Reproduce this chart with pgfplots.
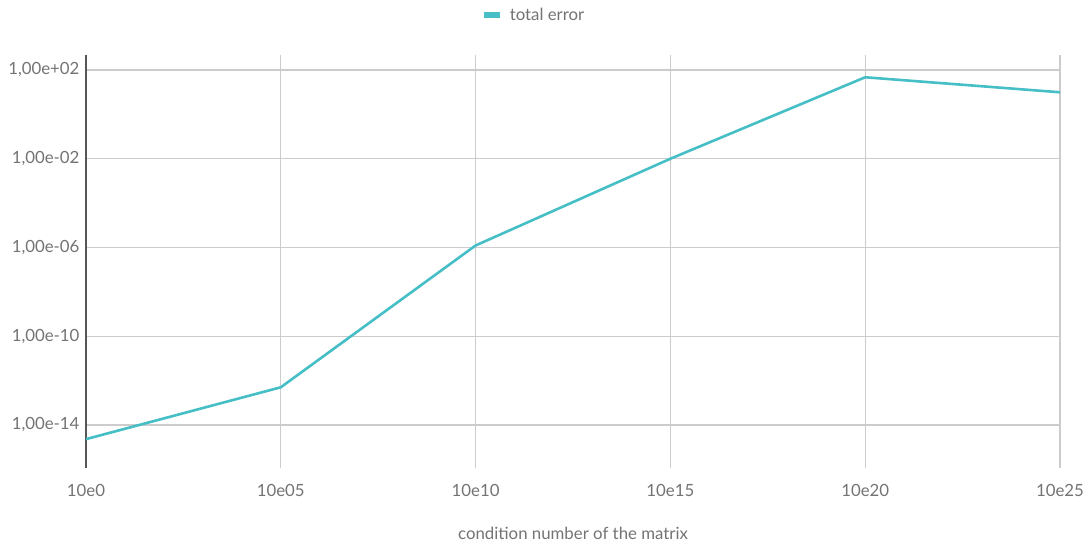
\documentclass[border=0pt]{standalone}
\usepackage{pgfplots}
\pgfplotsset{compat=1.18}
\usepackage{fontspec}
\setmainfont{Lato}
\definecolor{lineC}{HTML}{45BEC6}
\definecolor{gridC}{HTML}{CCCCCC}
\definecolor{txtC}{HTML}{737373}
\definecolor{axC}{HTML}{555555}
\begin{document}
\begin{tikzpicture}
\useasboundingbox (-86bp,-77bp) rectangle (1004bp,468bp);
\begin{axis}[
  scale only axis,
  width=974bp, height=413bp,
  ymode=log,
  xmin=0, xmax=5,
  ymin=1.15e-16, ymax=474,
  xtick={0,1,2,3,4,5},
  xticklabels={10e0,10e05,10e10,10e15,10e20,10e25},
  ytick={1e2,1e-2,1e-6,1e-10,1e-14},
  yticklabels={{1,00e+02},{1,00e-02},{1,00e-06},{1,00e-10},{1,00e-14}},
  minor ytick={}, yminorticks=false,
  xmajorgrids, ymajorgrids,
  grid style={gridC, line width=1.1bp},
  axis lines=left,
  axis line style={-},
  x axis line style={draw=none},
  y axis line style={axC, line width=1.6bp},
  major tick length=0pt,
  tick label style={font=\fontsize{16.8bp}{20bp}\selectfont, text=txtC},
  /pgf/number format/assume math mode=true,
  xticklabel style={yshift=-13bp},
  yticklabel style={xshift=-3bp},
  xlabel={condition number of the matrix},
  xlabel style={font=\fontsize{16.8bp}{20bp}\selectfont, text=txtC, at={(0.5,0)}, anchor=center, yshift=-65bp},
  legend style={at={(0.461,1.097)}, anchor=center, draw=none, fill=none,
    font=\fontsize{16.8bp}{20bp}\selectfont, text=txtC},
  legend image code/.code={\path[draw=none,fill=none] (0bp,0bp) -- (24bp,0bp); \fill[lineC,draw=none] (0bp,-3bp) rectangle (16bp,3bp);},
  clip=false,
]
\addplot[lineC, line width=2.6bp] coordinates {
  (0,2.3e-15) (1,5.0e-13) (2,1.23e-6) (3,1.0e-2) (4,47) (5,9.9)
};
\addlegendentry{total error}
\end{axis}
\end{tikzpicture}
\end{document}
